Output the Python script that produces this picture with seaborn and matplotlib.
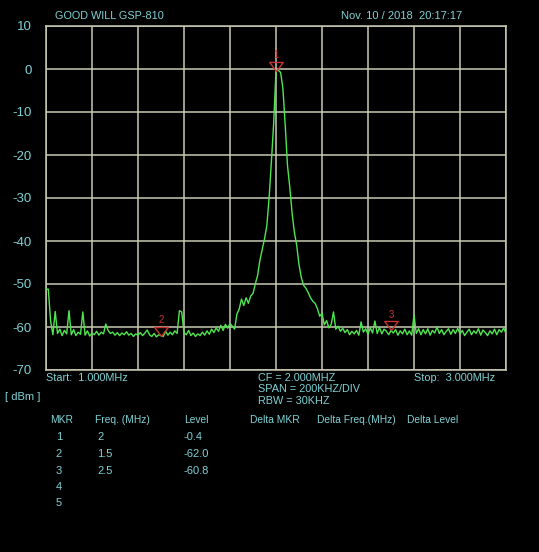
import numpy as np
import pandas as pd
import seaborn as sns
import matplotlib.pyplot as plt
from matplotlib.path import Path

# sweep settings
f_start = 1.0
f_stop = 3.0

# trace levels (dBm), one sample every 0.01 MHz from 1.00 to 3.00 MHz
level_dbm = [
    -51.2, -51.2, -58.6, -61.8, -56.4, -61.5, -60.5, -62.0, -60.8, -61.6,
    -56.2, -61.8, -60.6, -62.0, -61.2, -61.7, -56.5, -61.9, -60.9, -62.1,
    -61.4, -61.8, -61.0, -61.9, -61.2, -61.6, -59.3, -60.8, -61.5, -61.2,
    -61.9, -61.3, -62.0, -61.4, -61.8, -61.1, -61.9, -61.5, -62.2, -61.6,
    -61.9, -61.3, -62.0, -61.4, -60.7, -61.8, -62.2, -61.5, -62.3, -61.8,
    -62.0, -62.2, -61.0, -61.9, -61.2, -61.8, -60.9, -61.5, -56.2, -56.5,
    -61.3, -61.8, -60.8, -62.0, -61.4, -62.2, -61.6, -62.0, -61.2, -61.9,
    -60.9, -61.7, -60.5, -61.3, -60.2, -61.0, -59.6, -60.8, -59.4, -60.3,
    -59.2, -59.8, -60.5, -57.0, -55.8, -53.5, -55.0, -53.2, -54.5, -52.8,
    -52.2, -50.0, -48.0, -44.5, -42.0, -39.5, -36.5, -30.0, -21.5, -12.5,
    -0.4, -0.3, -0.8, -4.5, -13.0, -22.5, -27.5, -33.5, -38.0, -41.0,
    -45.5, -48.5, -50.3, -51.0, -52.0, -53.2, -54.0, -54.5, -55.7, -57.5,
    -56.8, -59.5, -58.5, -60.2, -59.4, -56.5, -60.5, -59.8, -61.0, -60.3,
    -61.3, -60.6, -61.8, -61.0, -61.6, -60.8, -61.9, -58.8, -61.2, -60.4,
    -61.7, -60.2, -61.4, -58.6, -61.5, -60.1, -61.6, -60.5, -61.0, -61.8,
    -60.8, -61.4, -60.6, -61.9, -60.9, -61.6, -60.5, -61.8, -60.9, -61.9,
    -57.2, -61.5, -60.4, -61.8, -60.6, -61.6, -60.4, -61.9, -60.8, -61.4,
    -60.0, -61.5, -60.6, -61.8, -61.0, -60.4, -61.7, -60.6, -61.5, -60.3,
    -61.6, -60.8, -62.0, -61.2, -60.5, -61.8, -60.9, -61.5, -60.4, -61.9,
    -60.7, -61.3, -62.0, -60.9, -61.6, -60.5, -61.8, -60.6, -61.2, -60.2,
    -61.6,
]

# marker table
mkr_ids = ['1', '2', '3', '4', '5']
mkr_freq = [2.0, 1.5, 2.5]
mkr_freq_txt = ['2', '1.5', '2.5', '', '']
mkr_level = [-0.4, -62.0, -60.8]
mkr_level_txt = ['-0.4', '-62.0', '-60.8', '', '']

y_ticks = [10, 0, -10, -20, -30, -40, -50, -60, -70]
x_grid = [1.0, 1.2, 1.4, 1.6, 1.8, 2.0, 2.2, 2.4, 2.6, 2.8, 3.0]

TXT = '#7fd2d6'
GRID = '#c9c9b4'
TRACE = '#4fe64f'
MKR = '#c83232'

sns.set_style('dark')
plt.rcParams['font.family'] = ['Liberation Sans', 'DejaVu Sans']
plt.rcParams['axes.unicode_minus'] = False

W, H = 539, 552
fig = plt.figure(figsize=(W / 100, H / 100), dpi=100, facecolor='black')
ax = fig.add_axes([46 / W, 1 - 370 / H, 460 / W, 344 / H])
ax.set_facecolor('black')

df = pd.DataFrame({'freq': np.linspace(f_start, f_stop, len(level_dbm)),
                   'level': level_dbm})
sns.lineplot(data=df, x='freq', y='level', ax=ax, color=TRACE,
             linewidth=1.0, legend=False, zorder=3)

ax.set_xlim(f_start, f_stop)
ax.set_ylim(-70, 10)
ax.set_xticks(x_grid)
ax.set_yticks(y_ticks)
ax.set_xticklabels([])
ax.set_xlabel('')
ax.set_ylabel('')
ax.grid(True, color=GRID, linewidth=1.1)
ax.tick_params(axis='both', length=0)
ax.tick_params(axis='y', colors=TXT, labelsize=9.5, pad=10)
for s in ax.spines.values():
    s.set_color(GRID)
    s.set_linewidth(1.1)

# marker triangles with apex on the trace
tri = Path([(0, 0), (-0.75, 1.0), (0.75, 1.0), (0, 0)],
           [Path.MOVETO, Path.LINETO, Path.LINETO, Path.CLOSEPOLY])
for mid, f, lv in zip(mkr_ids, mkr_freq, mkr_level):
    ax.plot([f], [lv], marker=tri, markersize=13, markerfacecolor='none',
            markeredgecolor=MKR, markeredgewidth=1.0, zorder=4, clip_on=False)
    ax.annotate(mid, (f, lv), xytext=(0, 11), textcoords='offset points',
                ha='center', va='center', color=MKR, fontsize=7)


def put(x, y, s, size=7.8, ha='left'):
    fig.text(x / W, 1 - y / H, s, color=TXT, fontsize=size, ha=ha, va='center')


put(55, 16, 'GOOD WILL GSP-810', size=7.8)
put(341, 16, 'Nov. 10 / 2018  20:17:17', size=8)
put(46, 378, 'Start:  1.000MHz')
put(258, 378, 'CF = 2.000MHZ')
put(258, 389, 'SPAN = 200KHZ/DIV')
put(258, 401, 'RBW = 30KHZ')
put(414, 378, 'Stop:  3.000MHz')
put(5, 397, '[ dBm ]', size=8)

# marker table
hs = 7.4
put(50, 420, 'MKR', size=hs)
put(95, 420, 'Freq. (MHz)', size=hs)
put(184, 420, 'Level', size=hs)
put(250, 420, 'Delta MKR', size=hs)
put(317, 420, 'Delta Freq.(MHz)', size=hs)
put(407, 420, 'Delta Level', size=hs)
row_y = [437, 454, 471, 487, 503]
for ry, mid, ft, lt in zip(row_y, mkr_ids, mkr_freq_txt, mkr_level_txt):
    put(59, ry, mid, size=8, ha='center')
    put(97, ry, ft, size=8)
    put(184, ry, lt, size=8)

fig.savefig('out.png', dpi=100, facecolor='black')
